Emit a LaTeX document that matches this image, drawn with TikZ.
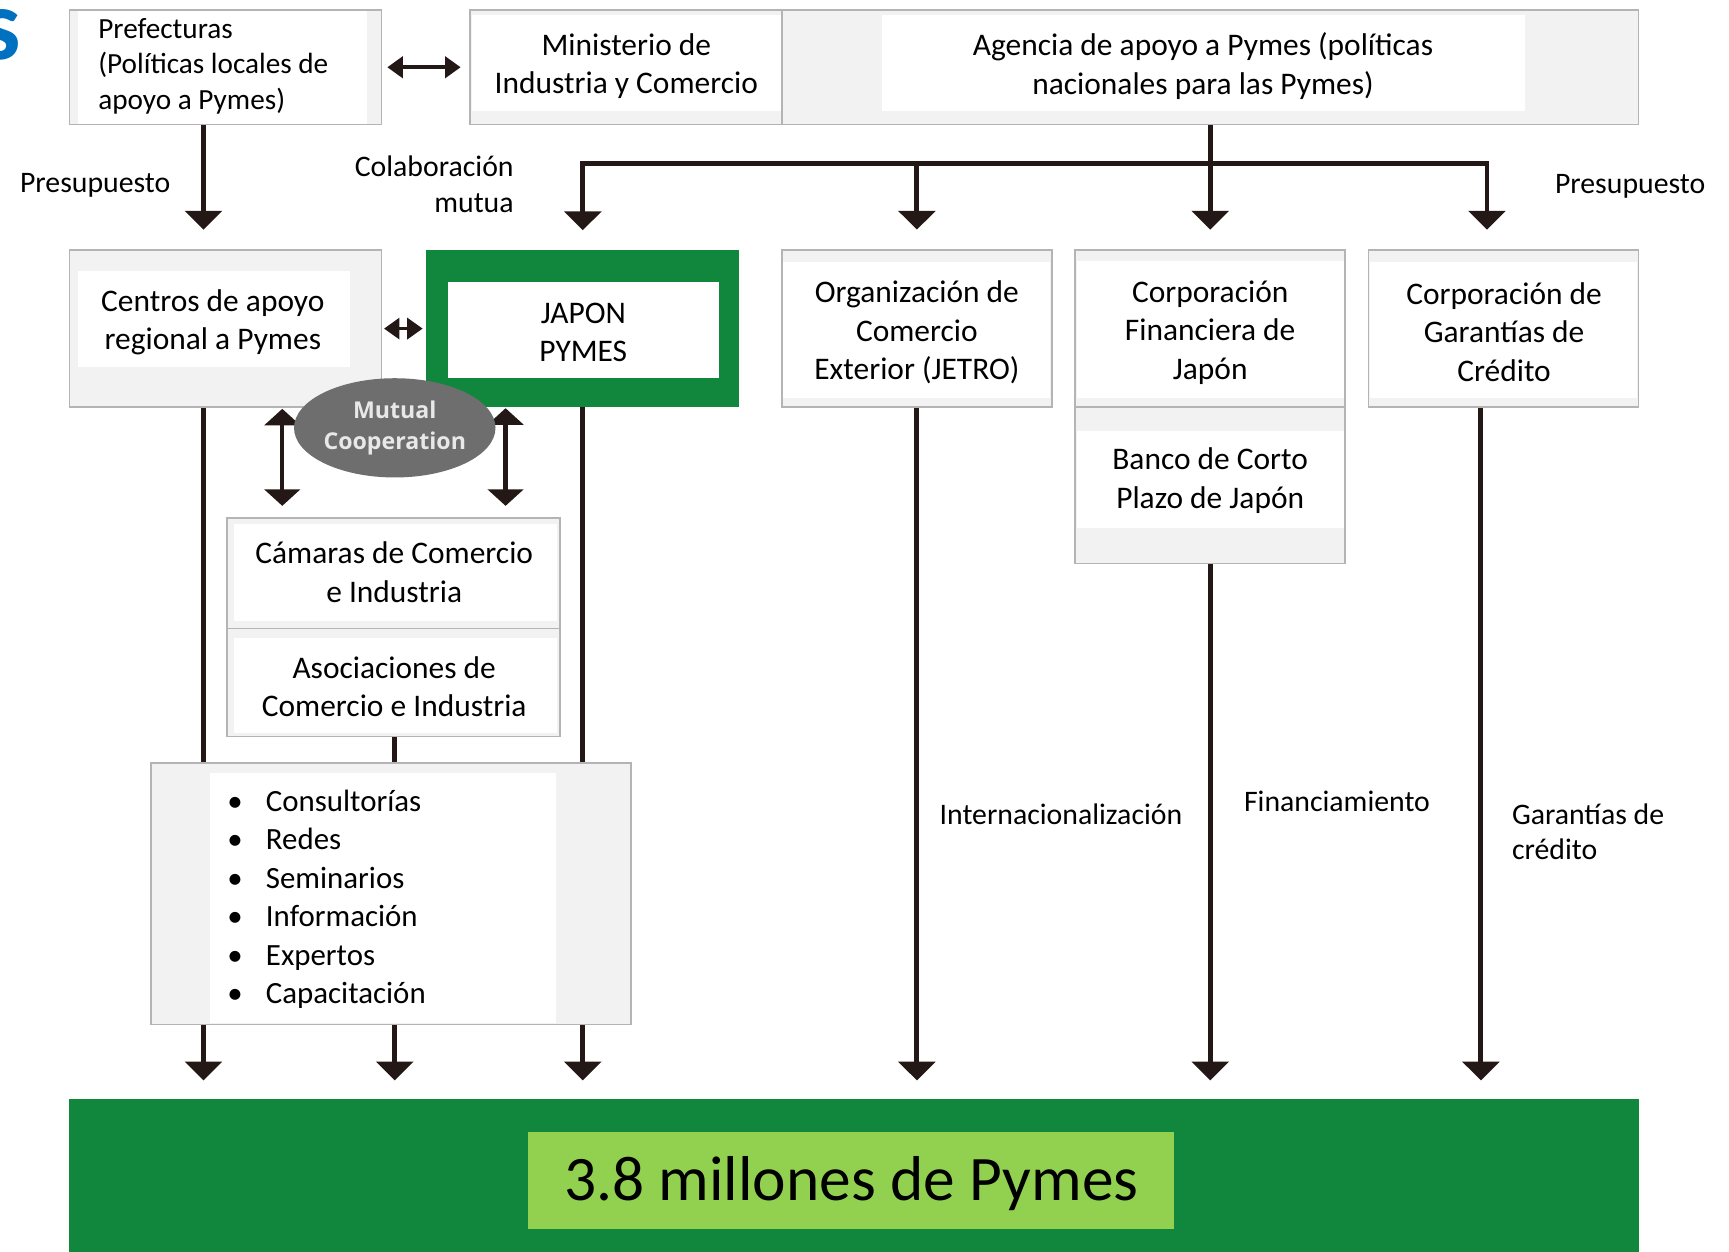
\documentclass[tikz,border=0pt]{standalone}
\usepackage{fontspec}
\setmainfont{Carlito}
\newfontfamily\osans{Open Sans}
\usetikzlibrary{arrows.meta,shapes.geometric,fit}
\definecolor{boxgray}{HTML}{B4B4B4}
\definecolor{boxfill}{HTML}{F2F2F2}
\definecolor{arrowc}{HTML}{231815}
\definecolor{dgreen}{HTML}{10873D}
\definecolor{lgreen}{HTML}{92D050}
\definecolor{ellgray}{HTML}{6E6E6E}
\definecolor{elltext}{HTML}{E8E8E8}
\definecolor{titleblue}{HTML}{0070C0}
\begin{document}
\begin{tikzpicture}[x=1pt,y=-1pt,
  obox/.style={draw=boxgray,line width=1.5pt,fill=boxfill,inner sep=0pt},
  wbox/.style={fill=white,draw=none,inner sep=0pt},
  txt/.style={inner sep=0pt,align=center,font=\fontsize{28.5}{34.8}\selectfont,text=black},
  lbl/.style={inner sep=0pt,align=left,font=\fontsize{27}{32}\selectfont,text=black},
  ln/.style={draw=arrowc,line width=4.5pt},
  arr/.style={ln,-{Triangle[width=33pt,length=17pt]}},
  dblv/.style={ln,line width=4pt,{Triangle[width=32pt,length=15pt]}-{Triangle[width=32pt,length=15pt]}},
  dblh/.style={ln,line width=3pt,{Triangle[width=19pt,length=14pt]}-{Triangle[width=19pt,length=14pt]}},
]
\clip (0,0) rectangle (1568,1135);
\fill[white] (0,0) rectangle (1568,1135);

% x positions of vertical connectors
\coordinate (xa) at (184.5,0);
\coordinate (xb) at (358,0);
\coordinate (xc) at (528.5,0);
\coordinate (xd) at (831.5,0);
\coordinate (xe) at (1097.5,0);
\coordinate (xf) at (1343,0);
\coordinate (xg) at (1348.5,0);
\coordinate (xv1) at (256,0);
\coordinate (xv2) at (458.5,0);
\coordinate (bus) at (0,148);

% cut-off title letter
\node[inner sep=0pt,anchor=base east,text=titleblue,font=\fontsize{92}{92}\selectfont\bfseries] (ttl) at (19,54) {s};

% top row
\node[obox,fit={(63,9) (346,113)}] (pref) {};
\node[wbox,fit={(71,10) (333,112)}] (prefw) {};
\node[lbl,font=\fontsize{26.5}{32}\selectfont,anchor=west] (preft) at (89,60) {Prefecturas\\(Políticas locales de\\apoyo a Pymes)};

\node[obox,fit={(426,9) (709,113)}] (min) {};
\node[wbox,fit={(428,14) (708,101)}] (minw) {};
\node[txt] (mint) at (568,60) {Ministerio de\\Industria y Comercio};

\node[obox,fit={(709,9) (1486,113)}] (age) {};
\node[wbox,fit={(800,14) (1383,101)}] (agew) {};
\node[txt] (aget) at (1091,60) {Agencia de apoyo a Pymes (políticas\\nacionales para las Pymes)};

% row 2
\node[obox,fit={(63,227) (346,369)}] (cen) {};
\node[wbox,fit={(71,246) (317,333)}] (cenw) {};
\node[txt] (cent) at (193,292) {Centros de apoyo\\regional a Pymes};

\node[fill=dgreen,draw=none,inner sep=0pt,fit={(386,227) (670,369)}] (jap) {};
\node[wbox,fit={(406,256) (652,343)}] (japw) {};
\node[txt] (japt) at (529,301.5) {JAPON\\PYMES};

\node[obox,fit={(709,227) (954,369)}] (jet) {};
\node[wbox,fit={(710.5,238) (952.5,361)}] (jetw) {};
\node[txt] (jett) at (831.5,301.5) {Organización de\\Comercio\\Exterior (JETRO)};

\node[obox,fit={(975,227) (1220,369)}] (cfj) {};
\node[wbox,fit={(976.5,237) (1218.5,361)}] (cfjw) {};
\node[txt] (cfjt) at (1097.5,301.5) {Corporación\\Financiera de\\Japón};

\node[obox,fit={(975,369) (1220,511)}] (ban) {};
\node[wbox,fit={(976.5,391) (1218.5,479)}] (banw) {};
\node[txt] (bant) at (1097.5,436) {Banco de Corto\\Plazo de Japón};

\node[obox,fit={(1241,227) (1486,369)}] (cgc) {};
\node[wbox,fit={(1242.5,238) (1484.5,361)}] (cgcw) {};
\node[txt] (cgct) at (1364,301) {Corporación de\\Garantías de\\Crédito};

% row 3
\node[obox,fit={(206,470) (508,570)}] (cam) {};
\node[wbox,fit={(212,475) (505,563)}] (camw) {};
\node[txt] (camt) at (357.5,519) {Cámaras de Comercio\\e Industria};

\node[obox,fit={(206,570) (508,668)}] (aso) {};
\node[wbox,fit={(212,579) (505,665)}] (asow) {};
\node[txt] (asot) at (357.5,623) {Asociaciones de\\Comercio e Industria};

\node[obox,fit={(137,692) (572,929)}] (srv) {};
\node[wbox,fit={(190,701) (504,928)}] (srvw) {};
\node[lbl,font=\fontsize{28}{34.8}\selectfont,anchor=west] (srvt) at (213,815.5)
  {\makebox[0pt][c]{•}\hspace{28pt}Consultorías\\
   \makebox[0pt][c]{•}\hspace{28pt}Redes\\
   \makebox[0pt][c]{•}\hspace{28pt}Seminarios\\
   \makebox[0pt][c]{•}\hspace{28pt}Información\\
   \makebox[0pt][c]{•}\hspace{28pt}Expertos\\
   \makebox[0pt][c]{•}\hspace{28pt}Capacitación};

% bottom band
\node[fill=dgreen,draw=none,inner sep=0pt,fit={(63,997) (1486,1140)}] (band) {};
\node[fill=lgreen,draw=none,inner sep=0pt,fit={(479,1027) (1065,1114.5)}] (big) {};
\node[inner sep=0pt,font=\fontsize{57.5}{60}\selectfont,text=black] (bigt) at (772,1073) {3.8 millones de Pymes};

% labels
\node[lbl,anchor=west] (presl) at (18,168) {Presupuesto};
\node[lbl,align=right,anchor=east] (colab) at (466,167) {Colaboración\\mutua};
\node[lbl,anchor=west] (presr) at (1410,169) {Presupuesto};
\node[lbl,anchor=west] (intl) at (852,738) {Internacionalización};
\node[lbl,anchor=west] (finl) at (1128,727) {Financiamiento};
\node[lbl,anchor=west] (garl) at (1371,754) {Garantías de\\crédito};

% connectors top
\draw[dblh,line width=3.5pt,shorten <=4.5pt,shorten >=7.5pt] (pref.east) -- (min.west);
\draw[arr,shorten >=18pt] (pref.south -| xa) -- (cen.north -| xa);
\draw[ln,{Triangle[width=33pt,length=17pt]}-{Triangle[width=33pt,length=17pt]},shorten <=18pt,shorten >=18pt]
  (jap.north -| xc) -- (bus -| xc) -- (bus -| xg) -- (cgc.north -| xg);
\draw[arr,shorten >=18pt] (bus -| xd) -- (jet.north -| xd);
\draw[arr,shorten >=18pt] (age.south -| xe) -- (cfj.north -| xe);

% row 2 connectors
\draw[dblh,shorten <=1.5pt,shorten >=2.5pt] (cen.east) -- (jap.west);
\draw[dblv,shorten <=1pt,shorten >=10.5pt] (cen.south -| xv1) -- (cam.north -| xv1);
\draw[dblv,shorten <=1pt,shorten >=10.5pt] (jap.south -| xv2) -- (cam.north -| xv2);
\draw[ln] (cen.south -| xa) -- (srv.north -| xa);
\draw[ln] (jap.south -| xc) -- (srv.north -| xc);
\draw[ln] (aso.south -| xb) -- (srv.north -| xb);

% mutual cooperation
\node[ellipse,fill=ellgray,draw=none,minimum width=168pt,minimum height=90pt,inner sep=0pt,
  align=center,text=elltext,font=\osans\bfseries\fontsize{21}{28}\selectfont] (mut) at (358,388)
  {Mutual\\Cooperation};

% bottom arrows
\draw[arr,shorten >=17pt] (srv.south -| xa) -- (band.north -| xa);
\draw[arr,shorten >=17pt] (srv.south -| xb) -- (band.north -| xb);
\draw[arr,shorten >=17pt] (srv.south -| xc) -- (band.north -| xc);
\draw[arr,shorten >=17pt] (jet.south -| xd) -- (band.north -| xd);
\draw[arr,shorten >=17pt] (ban.south -| xe) -- (band.north -| xe);
\draw[arr,shorten >=17pt] (cgc.south -| xf) -- (band.north -| xf);
\end{tikzpicture}
\end{document}
